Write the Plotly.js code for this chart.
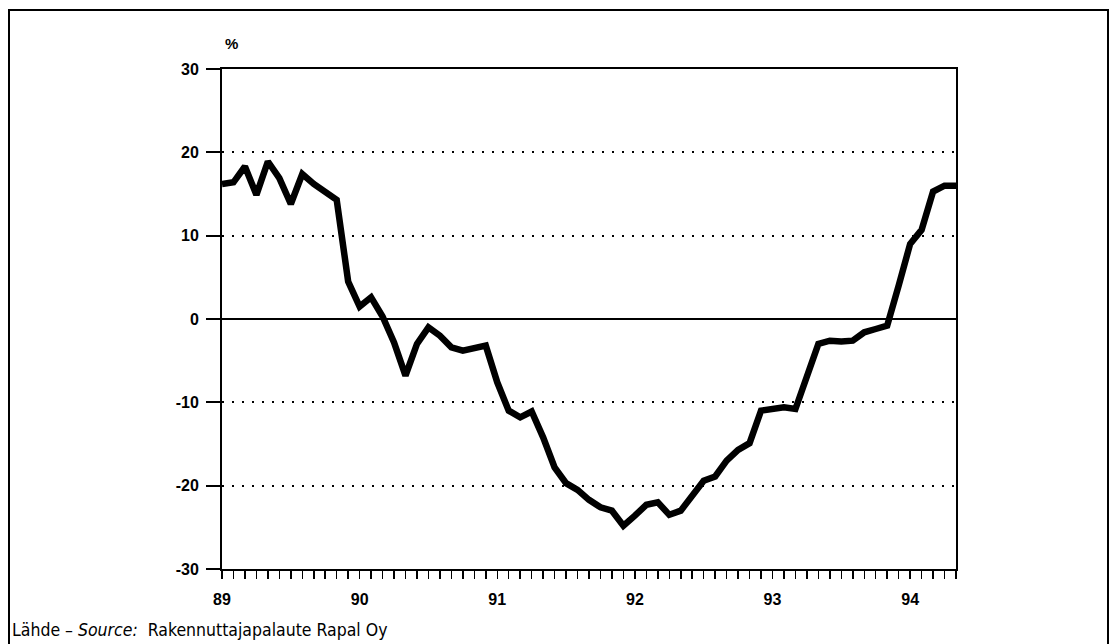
<!DOCTYPE html>
<html>
<head>
<meta charset="utf-8">
<script src="https://cdn.plot.ly/plotly-3.0.1.min.js"></script>
<style>
html,body{margin:0;padding:0;background:#fff;}
#chart{width:1116px;height:644px;}
</style>
</head>
<body>
<div id="chart"></div>
<script>
// Monthly series, January 1989 – May 1994 (%)
const startYear = 89;
const values = [
  16.2, 16.4, 18.3, 14.9, 18.9, 16.9, 13.8, 17.4, 16.2, 15.2, 14.3, 4.5,
  1.5, 2.6, 0.3, -2.8, -6.8, -3.0, -1.0, -2.0, -3.4, -3.8, -3.5, -3.2,
  -7.6, -11.0, -11.8, -11.1, -14.2, -17.8, -19.7, -20.5, -21.7, -22.6, -23.0, -24.8,
  -23.6, -22.3, -22.0, -23.5, -23.0, -21.3, -19.4, -18.9, -17.0, -15.7, -14.9, -11.0,
  -10.8, -10.6, -10.8, -7.0, -3.0, -2.6, -2.7, -2.6, -1.6, -1.2, -0.8, 4.0,
  9.0, 10.7, 15.3, 16.0, 16.0
];
const yearTicks = [89, 90, 91, 92, 93, 94];
const yearLabels = ["89", "90", "91", "92", "93", "94"];
const yTicks = [-30, -20, -10, 0, 10, 20, 30];
const yLabels = ["-30", "-20", "-10", "0", "10", "20", "30"];
const unitLabel = "%";
const sourceText = "Lähde – <i>Source:</i>  Rakennuttajapalaute Rapal Oy";

const xs = values.map((v, i) => startYear + i / 12);

const font = "Arial, Liberation Sans, sans-serif";

const trace = {
  x: xs, y: values, type: "scatter", mode: "lines",
  line: {color: "#000", width: 6.5, shape: "linear"},
  hoverinfo: "skip"
};

const layout = {
  width: 1116, height: 644,
  margin: {l: 222, r: 160, t: 69, b: 75},
  paper_bgcolor: "#fff", plot_bgcolor: "#fff",
  showlegend: false,
  xaxis: {
    range: [89, 94 + 4/12],
    tickvals: yearTicks, ticktext: yearLabels,
    ticks: "outside", ticklen: 8, tickwidth: 1.5, tickcolor: "#000",
    ticklabelstandoff: 7,
    minor: {dtick: 1/12, tick0: 89, ticks: "outside", ticklen: 8, tickwidth: 1.5, tickcolor: "#000", showgrid: false},
    showgrid: false, zeroline: false,
    showline: true, linecolor: "#000", linewidth: 2, mirror: true,
    tickfont: {family: font, size: 16, color: "#000", weight: "bold"},
    fixedrange: true
  },
  yaxis: {
    range: [-30, 30],
    tickvals: yTicks, ticktext: yLabels,
    ticks: "outside", ticklen: 14, tickwidth: 2, tickcolor: "#000",
    ticklabelstandoff: 4,
    showgrid: true, gridcolor: "#000", gridwidth: 2, griddash: "2px,8px",
    zeroline: true, zerolinecolor: "#000", zerolinewidth: 2,
    showline: true, linecolor: "#000", linewidth: 2, mirror: true,
    tickfont: {family: font, size: 16, color: "#000", weight: "bold"},
    fixedrange: true
  },
  shapes: [
    {type: "rect", xref: "paper", yref: "paper",
     x0: (9 - 222) / 734, x1: (1108 - 222) / 734,
     y0: (569 - 660) / 500, y1: (569 - 10) / 500,
     line: {color: "#000", width: 2}, fillcolor: "rgba(0,0,0,0)", layer: "below"}
  ],
  annotations: [
    {text: unitLabel, xref: "paper", yref: "paper",
     x: (223 - 222) / 734, y: (569 - 44) / 500, xanchor: "left", yanchor: "middle",
     showarrow: false, font: {family: font, size: 15, color: "#000", weight: "bold"}},
    {text: sourceText, xref: "paper", yref: "paper",
     x: (10 - 222) / 734, y: (569 - 630) / 500, xanchor: "left", yanchor: "middle",
     showarrow: false, font: {family: "DejaVu Sans Condensed, sans-serif", size: 17.5, color: "#000"}}
  ]
};

Plotly.newPlot("chart", [trace], layout, {staticPlot: true, displayModeBar: false});
</script>
</body>
</html>
